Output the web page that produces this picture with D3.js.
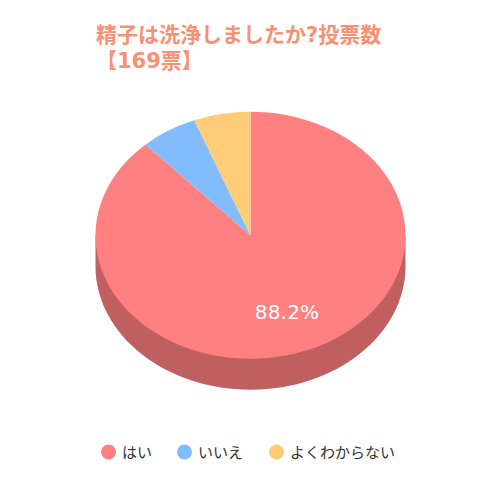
<!DOCTYPE html>
<html><head><meta charset="utf-8">
<script src="https://cdn.jsdelivr.net/npm/d3@7"></script>
<style>html,body{margin:0;background:#fff}svg{display:block}text{font-family:"DejaVu Sans","Noto Sans CJK JP",sans-serif}</style>
</head><body><svg id="c" width="500" height="500"></svg>
<script>
const categories=["はい","いいえ","よくわからない"];
const seriesValues=[149,10,10];
const colors=["#ff8080","#80bcff","#ffcc77"];
const sideColor="#c05f5f";
const titleLines=["精子は洗浄しましたか?投票数","【169票】"];
const labelText="88.2%";

const svg=d3.select("#c");
const cx=250.5,cy=235.3,rx=155,ry=123.5,depth=31;

const pie=d3.pie().sort(null);
const arcs=pie(seriesValues);
const arc=d3.arc().innerRadius(0).outerRadius(rx);

// side wall
const p=d3.path();
p.moveTo(cx-rx,cy);
p.lineTo(cx-rx,cy+depth);
p.bezierCurveTo(cx-rx,cy+depth+ry*0.5523,cx-rx*0.5523,cy+depth+ry,cx,cy+depth+ry);
p.bezierCurveTo(cx+rx*0.5523,cy+depth+ry,cx+rx,cy+depth+ry*0.5523,cx+rx,cy+depth);
p.lineTo(cx+rx,cy);
p.closePath();
svg.append("path").attr("d",p.toString()).attr("fill",sideColor);

// top
const g=svg.append("g").attr("transform",`translate(${cx},${cy}) scale(1,${ry/rx})`);
g.selectAll("path").data(arcs).join("path").attr("d",arc).attr("fill",(d,i)=>colors[i]);

// data label
svg.append("text").attr("x",287).attr("y",319).attr("text-anchor","middle")
  .attr("fill","#fff").attr("font-size",20).attr("letter-spacing",0.2).text(labelText);

// title
svg.selectAll("text.t").data(titleLines).join("text").attr("class","t")
  .attr("x",96).attr("y",(d,i)=>i?68:42)
  .attr("fill","#fa8f72").attr("font-size",21).attr("font-weight","bold").text(d=>d);

// legend
const lx=[108.5,184.5,276.5], tx=[122,198,290];
const leg=svg.selectAll("g.l").data(categories).join("g").attr("class","l");
leg.append("circle").attr("cx",(d,i)=>lx[i]).attr("cy",452).attr("r",7.5).attr("fill",(d,i)=>colors[i]);
leg.append("text").attr("x",(d,i)=>tx[i]).attr("y",458).attr("font-size",15).attr("fill","#333").text(d=>d);
</script></body></html>
